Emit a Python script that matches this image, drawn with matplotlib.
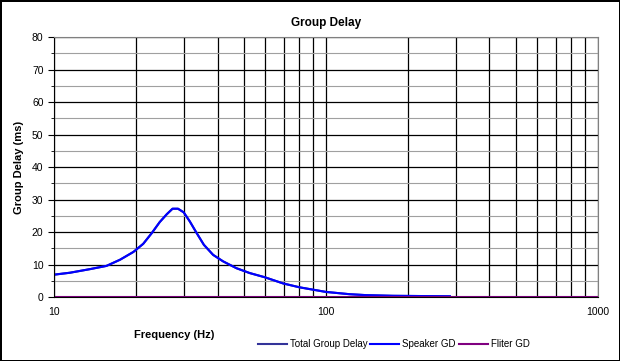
import numpy as np
import matplotlib.pyplot as plt
from matplotlib.ticker import FixedLocator, NullFormatter

plt.rcParams['font.family'] = ['Liberation Sans', 'DejaVu Sans']

# curve
freq = [10, 11.45, 13.55, 15.6, 17.5, 19.6, 21.3, 22.9, 24.5, 26.0, 27.3, 28.6,
        30, 31.6, 33.5, 35.6, 38.5, 41.9, 46.9, 52.5, 59.7, 69.7, 80.2, 100,
        122, 141, 176, 286]
speaker_gd = [6.9, 7.5, 8.6, 9.6, 11.5, 13.9, 16.4, 19.7, 23.1, 25.5, 27.2, 27.2,
              26.1, 23.3, 19.7, 16.1, 13.0, 11.0, 8.9, 7.4, 6.1, 4.2, 3.0, 1.6,
              0.9, 0.6, 0.4, 0.25]
total_gd = speaker_gd
filter_freq = [10, 1000]
filter_gd = [0, 0]

fig = plt.figure(figsize=(6.2, 3.61), dpi=100, edgecolor='black', linewidth=2)
ax = fig.add_axes([0.087, 0.177, 0.877, 0.72])

ax.plot(freq, total_gd, color='#333399', lw=1.5, label='Total Group Delay')
ax.plot(freq, speaker_gd, color='#0000ff', lw=1.5, label='Speaker GD')
ax.plot(filter_freq, filter_gd, color='#800080', lw=1.5, label='Fliter GD')

ax.set_xscale('log')
ax.set_xlim(10, 1000)
ax.set_ylim(0, 80)
ax.set_xticks([10, 100, 1000])
ax.set_xticklabels(['10', '100', '1000'])
ax.xaxis.set_minor_locator(FixedLocator([20, 30, 40, 50, 60, 70, 80, 90,
                                         200, 300, 400, 500, 600, 700, 800, 900]))
ax.xaxis.set_minor_formatter(NullFormatter())
ax.set_yticks(range(0, 81, 10))
ax.yaxis.set_minor_locator(FixedLocator(range(5, 80, 10)))

ax.grid(which='major', color='black', lw=0.9)
ax.grid(which='minor', axis='x', color='black', lw=0.9)
ax.grid(which='minor', axis='y', color='#a0a0a0', lw=0.8)
ax.set_axisbelow(True)
ax.tick_params(axis='x', which='both', length=0, labelsize=7.5, pad=7)
ax.tick_params(axis='y', which='major', length=4, labelsize=7.5, direction='out')
ax.tick_params(axis='y', which='minor', length=2, direction='out')
for s in ax.spines.values():
    s.set_color('#808080')
ax.spines['left'].set_color('black')
ax.spines['bottom'].set_color('black')

ax.set_title('Group Delay', fontsize=8.5, fontweight='bold', pad=8)
ax.set_xlabel('Frequency (Hz)', fontsize=8, fontweight='bold')
ax.set_ylabel('Group Delay (ms)', fontsize=8, fontweight='bold', labelpad=6)
ax.xaxis.set_label_coords(0.222, -0.125)

fig.legend(loc='center', bbox_to_anchor=(0.635, 0.047), ncol=3, frameon=False,
           fontsize=7, handlelength=3, columnspacing=0.3, handletextpad=0.3)

fig.savefig('out.png', dpi=100)
